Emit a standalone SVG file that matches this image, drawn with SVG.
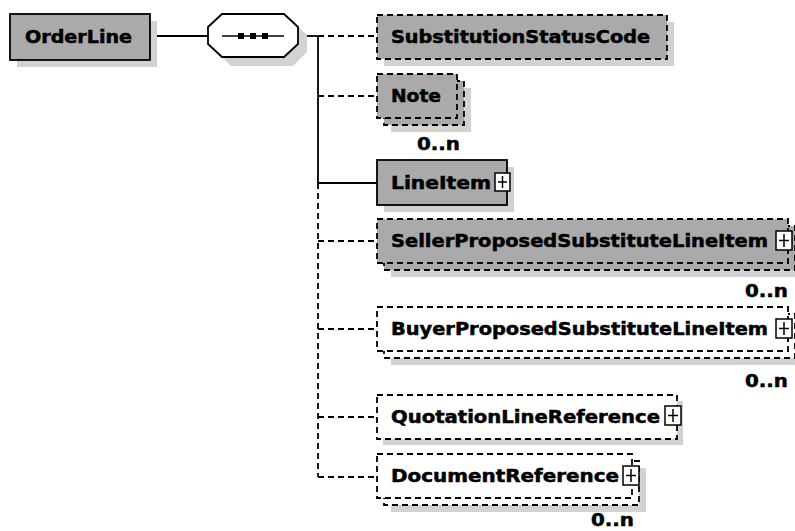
<svg xmlns="http://www.w3.org/2000/svg" width="795" height="531" viewBox="0 0 795 531">
<style>
.bg{fill:#ffffff}
.sh{fill:#d2d2d2;stroke:none}
.g{fill:#aaaaaa;stroke:#000;stroke-width:1.8}
.w{fill:#ffffff;stroke:#000;stroke-width:1.8}
.d{stroke-dasharray:6,4}
.t{font-family:"DejaVu Sans",sans-serif;font-weight:bold;font-size:17px;fill:#000;stroke:#000;stroke-width:0.5}
.c{fill:none;stroke:#000;stroke-width:1.8}
.pb{fill:#fff;stroke:#000;stroke-width:1.5}
.pl{stroke:#000;stroke-width:1.5}
</style>
<rect class="bg" x="0" y="0" width="795" height="531"/>
<g id="connectors">
<line class="c" x1="150" y1="36" x2="208" y2="36"/>
<line class="c" x1="298" y1="36" x2="318" y2="36"/>
<line class="c" x1="318" y1="36" x2="318" y2="183"/>
<line class="c d" x1="318" y1="183" x2="318" y2="477"/>
<line class="c d" x1="318" y1="36" x2="377" y2="36"/>
<line class="c d" x1="318" y1="96" x2="377" y2="96"/>
<line class="c" x1="318" y1="183" x2="377" y2="183"/>
<line class="c d" x1="318" y1="241" x2="377" y2="241"/>
<line class="c d" x1="318" y1="329" x2="377" y2="329"/>
<line class="c d" x1="318" y1="417" x2="377" y2="417"/>
<line class="c d" x1="318" y1="477" x2="377" y2="477"/>
</g>
<g id="OrderLine">
<rect class="sh" x="17" y="21" width="140" height="46"/>
<rect class="g" x="10" y="14" width="140" height="46"/>
<text class="t" x="25" y="43" textLength="107" lengthAdjust="spacingAndGlyphs">OrderLine</text>
</g>
<g id="sequence">
<polygon class="sh" points="231,22 293,22 307,35 307,52 293,66 231,66 217,52 217,35"/>
<polygon class="w" points="222,14 284,14 298,27 298,44 284,57 222,57 208,44 208,27"/>
<line class="pl" x1="222" y1="36" x2="284" y2="36"/>
<rect x="238" y="33" width="6" height="6" fill="#000"/>
<rect x="250" y="33" width="6" height="6" fill="#000"/>
<rect x="262" y="33" width="6" height="6" fill="#000"/>
</g>
<g id="SubstitutionStatusCode">
<rect class="sh" x="384" y="22" width="290" height="44"/>
<rect class="g d" x="377" y="15" width="290" height="44"/>
<text class="t" x="391" y="43" textLength="259" lengthAdjust="spacingAndGlyphs">SubstitutionStatusCode</text>
</g>
<g id="Note">
<rect class="sh" x="391" y="88" width="80" height="44"/>
<rect class="g d" x="384" y="81" width="80" height="44"/>
<rect class="g d" x="377" y="74" width="80" height="44"/>
<text class="t" x="391" y="102" textLength="50" lengthAdjust="spacingAndGlyphs">Note</text>
<text class="t" x="417" y="150" textLength="43" lengthAdjust="spacingAndGlyphs">0..n</text>
</g>
<g id="LineItem">
<rect class="sh" x="384" y="167" width="130" height="45"/>
<rect class="g" x="377" y="160" width="130" height="45"/>
<text class="t" x="391" y="189" textLength="100" lengthAdjust="spacingAndGlyphs">LineItem</text>
<rect class="pb" x="495" y="173" width="15" height="18"/>
<line class="pl" x1="498" y1="182" x2="507" y2="182"/>
<line class="pl" x1="502.5" y1="176" x2="502.5" y2="188"/>
</g>
<g id="SellerProposedSubstituteLineItem">
<rect class="sh" x="391" y="233" width="411" height="44"/>
<rect class="g d" x="384" y="226" width="411" height="44"/>
<rect class="g d" x="377" y="219" width="411" height="44"/>
<text class="t" x="391" y="247" textLength="377" lengthAdjust="spacingAndGlyphs">SellerProposedSubstituteLineItem</text>
<rect class="pb" x="776" y="231" width="16" height="19"/>
<line class="pl" x1="779" y1="240.5" x2="789" y2="240.5"/>
<line class="pl" x1="784" y1="234" x2="784" y2="247"/>
<text class="t" x="745" y="297" textLength="43" lengthAdjust="spacingAndGlyphs">0..n</text>
</g>
<g id="BuyerProposedSubstituteLineItem">
<rect class="sh" x="391" y="321" width="411" height="44"/>
<rect class="w d" x="384" y="314" width="411" height="44"/>
<rect class="w d" x="377" y="307" width="411" height="44"/>
<text class="t" x="391" y="335" textLength="377" lengthAdjust="spacingAndGlyphs">BuyerProposedSubstituteLineItem</text>
<rect class="pb" x="776" y="319" width="16" height="19"/>
<line class="pl" x1="779" y1="328.5" x2="789" y2="328.5"/>
<line class="pl" x1="784" y1="322" x2="784" y2="335"/>
<text class="t" x="745" y="387" textLength="43" lengthAdjust="spacingAndGlyphs">0..n</text>
</g>
<g id="QuotationLineReference">
<rect class="sh" x="383" y="401" width="300" height="44"/>
<rect class="w d" x="377" y="395" width="300" height="44"/>
<text class="t" x="391" y="423" textLength="269" lengthAdjust="spacingAndGlyphs">QuotationLineReference</text>
<rect class="pb" x="665" y="406" width="16" height="19"/>
<line class="pl" x1="668" y1="415.5" x2="678" y2="415.5"/>
<line class="pl" x1="673" y1="409" x2="673" y2="422"/>
</g>
<g id="DocumentReference">
<rect class="sh" x="391" y="468" width="255" height="44"/>
<rect class="w d" x="384" y="461" width="255" height="44"/>
<rect class="w d" x="377" y="454" width="255" height="44"/>
<text class="t" x="391" y="482" textLength="228" lengthAdjust="spacingAndGlyphs">DocumentReference</text>
<rect class="pb" x="623" y="466" width="16" height="19"/>
<line class="pl" x1="626" y1="475.5" x2="636" y2="475.5"/>
<line class="pl" x1="631" y1="469" x2="631" y2="482"/>
<text class="t" x="591" y="526" textLength="43" lengthAdjust="spacingAndGlyphs">0..n</text>
</g>
</svg>
